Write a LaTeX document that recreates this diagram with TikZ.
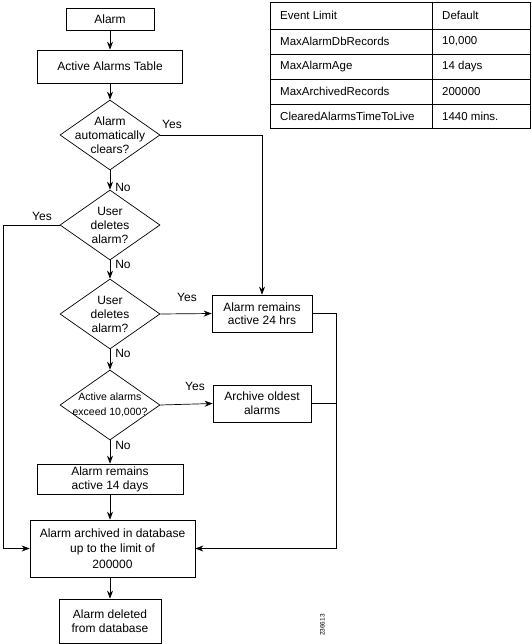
\documentclass[tikz,border=0pt]{standalone}
\usepackage{fontspec}
\setmainfont{Liberation Sans}
\usetikzlibrary{shapes.geometric,arrows.meta}
\begin{document}
\begin{tikzpicture}[x=1pt,y=-1pt,
  box/.style={draw, line width=0.7pt, align=center, inner sep=0pt, font=\fontsize{12}{14}\selectfont},
  dia/.style={draw, shape=diamond, minimum width=100pt, minimum height=70pt, inner sep=0pt, line width=0.7pt},
  dtext/.style={align=center, inner sep=0pt, font=\fontsize{12}{14}\selectfont},
  lab/.style={inner sep=0pt, font=\fontsize{12}{14}\selectfont},
  arr/.style={-{Stealth[length=8pt,width=6pt]}, line width=0.7pt},
  ln/.style={line width=0.7pt},
  cell/.style={anchor=west, inner sep=0pt, font=\fontsize{11.5}{13}\selectfont}]
\useasboundingbox (0,0) rectangle (531,644);

% flow column
\node[box, minimum width=88pt, minimum height=22pt] (alarm) at (110,19) {Alarm};
\node[box, minimum width=145pt, minimum height=33pt] (aat) at (110,66.5) {Active Alarms Table};
\node[dia] (d1) at (110,135) {};
\node[dtext] (d1t) at (d1) {Alarm\\automatically\\clears?};
\node[dia] (d2) at (110,225) {};
\node[dtext] (d2t) at (d2) {User\\deletes\\alarm?};
\node[dia] (d3) at (110,314) {};
\node[dtext] (d3t) at (d3) {User\\deletes\\alarm?};
\node[dia] (d4) at (110,405) {};
\node[dtext, font=\fontsize{10.5}{15}\selectfont] (d4t) at (d4) {Active alarms\\exceed 10,000?};
\node[box, minimum width=146pt, minimum height=30pt] (r14) at (110,479) {Alarm remains\\active 14 days};
\node[box, minimum width=165pt, minimum height=57pt, font=\fontsize{12}{15.5}\selectfont] (arch) at (112.5,548.5) {Alarm archived in database\\up to the limit of\\200000};
\node[box, minimum width=102pt, minimum height=44pt] (del) at (110,621) {Alarm deleted\\from database};

% right column
\node[box, minimum width=100pt, minimum height=37pt, font=\fontsize{12}{12.5}\selectfont] (r24) at (262,313.5) {Alarm remains\\active 24 hrs};
\node[box, minimum width=98pt, minimum height=37pt] (aold) at (262,403.5) {Archive oldest\\alarms};

\coordinate (lc) at (3,225);
\coordinate (rc) at (336,313.5);

% connectors
\draw[arr] (alarm) -- (aat);
\draw[arr] (aat) -- (d1.north);
\draw[arr] (d1.east) -| (r24.north);
\draw[arr] (d1.south) -- (d2.north);
\draw[arr] (d2.west) -- (lc) |- (arch.west);
\draw[arr] (d2.south) -- (d3.north);
\draw[arr] (d3.east) -- (r24.west);
\draw[arr] (d3.south) -- (d4.north);
\draw[arr] (d4.east) -- (aold.west);
\draw[arr] (d4.south) -- (r14.north);
\draw[arr] (r14.south) -- (r14.south |- arch.north);
\draw[arr] (del.north |- arch.south) -- (del.north);
\draw[arr] (r24.east) -- (rc) |- (arch.east);
\draw[ln] (aold.east) -- (rc |- aold.east);

% labels
\node[lab] (y1) at (172,124) {Yes};
\node[lab] (n1) at (123,187) {No};
\node[lab] (y2) at (42,216) {Yes};
\node[lab] (n2) at (123,264) {No};
\node[lab] (y3) at (187,297) {Yes};
\node[lab] (n3) at (123,353) {No};
\node[lab] (y4) at (195,386) {Yes};
\node[lab] (n4) at (123,445) {No};

% table
\draw[ln] (270,2) rectangle (530,128);
\draw[ln] (270,29) -- (530,29);
\draw[ln] (270,54) -- (530,54);
\draw[ln] (270,79) -- (530,79);
\draw[ln] (270,104) -- (530,104);
\draw[ln] (432,2) -- (432,128);
\node[cell] (t11) at (280,15.5) {Event Limit};
\node[cell] (t12) at (442,15.5) {Default};
\node[cell] (t21) at (280,41.5) {MaxAlarmDbRecords};
\node[cell] (t22) at (442,41.5) {10,000};
\node[cell] (t31) at (280,66.5) {MaxAlarmAge};
\node[cell] (t32) at (442,66.5) {14 days};
\node[cell] (t41) at (280,91.5) {MaxArchivedRecords};
\node[cell] (t42) at (442,91.5) {200000};
\node[cell] (t51) at (280,116) {ClearedAlarmsTimeToLive};
\node[cell] (t52) at (442,116) {1440 mins.};

\node[inner sep=0pt, rotate=90, font=\fontsize{6.5}{7}\selectfont] (code) at (322.5,625) {236613};
\end{tikzpicture}
\end{document}
